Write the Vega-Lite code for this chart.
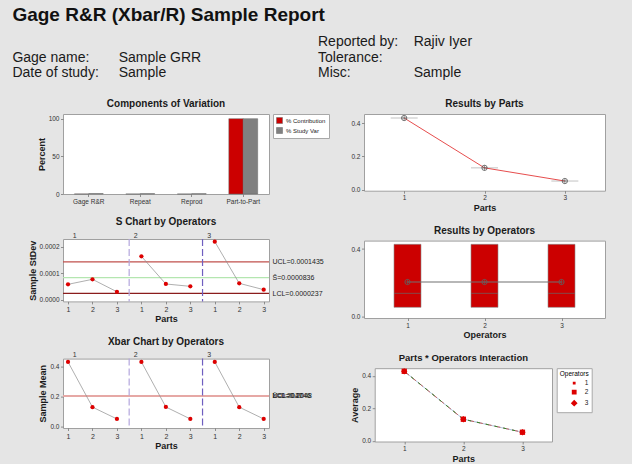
{
  "$schema": "https://vega.github.io/schema/vega-lite/v6.json",
  "background": "#e5e5e5",
  "padding": {"left": 12, "top": 6, "right": 26, "bottom": 3},
  "title": {"text": "Gage R&R (Xbar/R) Sample Report", "anchor": "start", "fontSize": 19, "fontWeight": "bold", "color": "#111111", "offset": 10},
  "bounds": "flush",
  "spacing": 36,
  "resolve": {"scale": {"color": "independent", "stroke": "independent", "shape": "independent", "strokeDash": "independent", "size": "independent"}, "legend": {"color": "independent", "stroke": "independent", "shape": "independent", "strokeDash": "independent", "size": "independent"}},
  "vconcat": [
    {
      "width": 500,
      "height": 31.3,
      "view": {"fill": null, "stroke": null},
      "data": {"values": [
        {"side": "left", "line": 2, "label": "Gage name:", "value": "Sample GRR"},
        {"side": "left", "line": 3, "label": "Date of study:", "value": "Sample"},
        {"side": "right", "line": 1, "label": "Reported by:", "value": "Rajiv Iyer"},
        {"side": "right", "line": 2, "label": "Tolerance:", "value": ""},
        {"side": "right", "line": 3, "label": "Misc:", "value": "Sample"}
      ]},
      "layer": [
        {
          "mark": {"type": "text", "align": "left", "baseline": "alphabetic", "fontSize": 14, "color": "#1a1a1a"},
          "encoding": {
            "x": {"field": "side", "type": "nominal", "scale": {"type": "point", "domain": ["left", "right"], "range": [-50.6, 255], "padding": 0}, "axis": null},
            "y": {"field": "line", "type": "ordinal", "scale": {"type": "point", "domain": [1, 2, 3], "padding": 0}, "axis": null},
            "text": {"field": "label"}
          }
        },
        {
          "mark": {"type": "text", "align": "left", "baseline": "alphabetic", "fontSize": 14, "color": "#1a1a1a"},
          "encoding": {
            "x": {"field": "side", "type": "nominal", "scale": {"type": "point", "domain": ["left", "right"], "range": [55.7, 350.7], "padding": 0}, "axis": null},
            "y": {"field": "line", "type": "ordinal", "scale": {"type": "point", "domain": [1, 2, 3], "padding": 0}, "axis": null},
            "text": {"field": "value"}
          }
        }
      ],
      "resolve": {"scale": {"x": "independent"}}
    },
    {
      "hconcat": [
        {
          "vconcat": [
            {
              "width": 206,
              "height": 80,
              "title": {"text": "Components of Variation", "fontSize": 10, "offset": 5},
              "data": {"values": [
                {"source": "Gage R&R", "measure": "% Contribution", "percent": 0.05},
                {"source": "Gage R&R", "measure": "% Study Var", "percent": 0.6},
                {"source": "Repeat", "measure": "% Contribution", "percent": 0.03},
                {"source": "Repeat", "measure": "% Study Var", "percent": 0.5},
                {"source": "Reprod", "measure": "% Contribution", "percent": 0.02},
                {"source": "Reprod", "measure": "% Study Var", "percent": 0.45},
                {"source": "Part-to-Part", "measure": "% Contribution", "percent": 100},
                {"source": "Part-to-Part", "measure": "% Study Var", "percent": 100}
              ]},
              "mark": {"type": "bar", "stroke": "#666666", "strokeWidth": 0.5},
              "encoding": {
                "x": {"field": "source", "type": "nominal", "sort": ["Gage R&R", "Repeat", "Reprod", "Part-to-Part"], "scale": {"paddingInner": 0.44, "paddingOuter": 0.22}, "axis": {"title": null, "labelAngle": 0, "labelFontSize": 6.5}},
                "xOffset": {"field": "measure", "type": "nominal", "sort": ["% Contribution", "% Study Var"]},
                "y": {"field": "percent", "type": "quantitative", "scale": {"domain": [0, 106.2], "nice": false}, "axis": {"values": [0, 50, 100], "title": "Percent"}},
                "color": {"field": "measure", "type": "nominal", "scale": {"domain": ["% Contribution", "% Study Var"], "range": ["#cc0000", "#808080"]},
                  "legend": {"title": null, "orient": "right", "offset": 4, "symbolType": "square", "symbolSize": 36, "labelFontSize": 6, "rowPadding": 1, "symbolStrokeWidth": 0.5, "labelOffset": 3}}
              }
            },
            {
              "vconcat": [
                {
                  "width": 206,
                  "height": 62.4,
                  "title": {"text": "S Chart by Operators", "fontSize": 10, "offset": 4},
                  "layer": [
                    {
                      "data": {"values": [
                        {"limit": "UCL", "value": 0.0001435},
                        {"limit": "S", "value": 0.0000836},
                        {"limit": "LCL", "value": 0.0000237}
                      ]},
                      "mark": {"type": "rule", "strokeWidth": 1.2},
                      "encoding": {
                        "y": {"field": "value", "type": "quantitative", "axis": {"orient": "right", "values": [0.0000237, 0.0000836, 0.0001435], "labelExpr": "datum.value > 0.0001 ? 'UCL=0.0001435' : (datum.value > 0.00005 ? 'S\u0304=0.0000836' : 'LCL=0.0000237')", "ticks": false, "domain": false, "title": null, "labelPadding": 3, "labelFontSize": 7, "labelOverlap": false, "labelColor": "#222222"}},
                        "color": {"field": "limit", "type": "nominal", "scale": {"domain": ["UCL", "S", "LCL"], "range": ["#c0504d", "#b4e6b0", "#8b1c1c"]}, "legend": null}
                      }
                    },
                    {
                      "data": {"values": [
                        {"operator": "2", "boundary": 3.5},
                        {"operator": "3", "boundary": 6.5}
                      ]},
                      "mark": {"type": "rule", "strokeDash": [7, 3], "strokeWidth": 1.2},
                      "encoding": {
                        "x": {"field": "boundary", "type": "quantitative", "axis": {"orient": "top", "values": [1.25, 3.75, 6.75], "labelExpr": "datum.value < 2 ? '1' : (datum.value < 5 ? '2' : '3')", "ticks": false, "domain": false, "title": null, "labelPadding": 1, "labelFontSize": 7}},
                        "stroke": {"field": "operator", "type": "nominal", "scale": {"domain": ["2", "3"], "range": ["#b3a6dd", "#6f5fc0"]}, "legend": null}
                      }
                    },
                    {
                      "data": {"values": [
                        {"operator": "1", "part": 1, "sample": 1, "stdev": 0.0000582},
                        {"operator": "1", "part": 2, "sample": 2, "stdev": 0.0000772},
                        {"operator": "1", "part": 3, "sample": 3, "stdev": 0.0000300},
                        {"operator": "2", "part": 1, "sample": 4, "stdev": 0.0001644},
                        {"operator": "2", "part": 2, "sample": 5, "stdev": 0.0000595},
                        {"operator": "2", "part": 3, "sample": 6, "stdev": 0.0000506},
                        {"operator": "3", "part": 1, "sample": 7, "stdev": 0.0002200},
                        {"operator": "3", "part": 2, "sample": 8, "stdev": 0.0000620},
                        {"operator": "3", "part": 3, "sample": 9, "stdev": 0.0000380}
                      ]},
                      "encoding": {
                        "x": {"field": "sample", "type": "quantitative", "scale": {"domain": [0.795, 9.217], "nice": false, "zero": false}, "axis": {"values": [1, 2, 3, 4, 5, 6, 7, 8, 9], "labelExpr": "'' + ((datum.value - 1) % 3 + 1)", "title": "Parts", "labelFontSize": 7}},
                        "y": {"field": "stdev", "type": "quantitative", "scale": {"domain": [-0.0000065, 0.00023], "nice": false, "zero": false}, "axis": {"values": [0, 0.0001, 0.0002], "format": ".4f", "title": "Sample StDev"}},
                        "detail": {"field": "operator"}
                      },
                      "layer": [
                        {"mark": {"type": "line", "color": "#8c8c8c", "strokeWidth": 0.7}},
                        {"mark": {"type": "point", "filled": true, "color": "#dd0000", "size": 18, "opacity": 1}}
                      ]
                    }
                  ],
                  "resolve": {"axis": {"x": "independent", "y": "independent"}, "scale": {"color": "independent", "stroke": "independent"}}
                },
                {
                  "width": 206,
                  "height": 69.4,
                  "title": {"text": "Xbar Chart by Operators", "fontSize": 10, "offset": 4},
                  "layer": [
                    {
                      "data": {"values": [
                        {"limit": "X", "value": 0.2047},
                        {"limit": "UCL", "value": 0.2048},
                        {"limit": "LCL", "value": 0.2046}
                      ]},
                      "mark": {"type": "rule", "strokeWidth": 1.4},
                      "encoding": {
                        "y": {"field": "value", "type": "quantitative", "axis": {"orient": "right", "values": [0.2046, 0.2047, 0.2048], "labelExpr": "datum.value > 0.20475 ? 'UCL=0.2048' : (datum.value > 0.20465 ? 'X\u0304=0.2047' : 'LCL=0.2046')", "ticks": false, "domain": false, "title": null, "labelPadding": 3, "labelFontSize": 7, "labelOverlap": false, "labelColor": "#222222"}},
                        "color": {"field": "limit", "type": "nominal", "scale": {"domain": ["X", "UCL", "LCL"], "range": ["#a8e0a0", "#e8a4a4", "#e8a4a4"]}, "legend": null}
                      }
                    },
                    {
                      "data": {"values": [
                        {"operator": "2", "boundary": 3.5},
                        {"operator": "3", "boundary": 6.5}
                      ]},
                      "mark": {"type": "rule", "strokeDash": [7, 3], "strokeWidth": 1.2},
                      "encoding": {
                        "x": {"field": "boundary", "type": "quantitative", "axis": {"orient": "top", "values": [1.25, 3.75, 6.75], "labelExpr": "datum.value < 2 ? '1' : (datum.value < 5 ? '2' : '3')", "ticks": false, "domain": false, "title": null, "labelPadding": 1, "labelFontSize": 7}},
                        "stroke": {"field": "operator", "type": "nominal", "scale": {"domain": ["2", "3"], "range": ["#b3a6dd", "#6f5fc0"]}, "legend": null}
                      }
                    },
                    {
                      "data": {"values": [
                        {"operator": "1", "part": 1, "sample": 1, "mean": 0.429},
                        {"operator": "1", "part": 2, "sample": 2, "mean": 0.131},
                        {"operator": "1", "part": 3, "sample": 3, "mean": 0.053},
                        {"operator": "2", "part": 1, "sample": 4, "mean": 0.429},
                        {"operator": "2", "part": 2, "sample": 5, "mean": 0.132},
                        {"operator": "2", "part": 3, "sample": 6, "mean": 0.053},
                        {"operator": "3", "part": 1, "sample": 7, "mean": 0.429},
                        {"operator": "3", "part": 2, "sample": 8, "mean": 0.131},
                        {"operator": "3", "part": 3, "sample": 9, "mean": 0.053}
                      ]},
                      "encoding": {
                        "x": {"field": "sample", "type": "quantitative", "scale": {"domain": [0.795, 9.217], "nice": false, "zero": false}, "axis": {"values": [1, 2, 3, 4, 5, 6, 7, 8, 9], "labelExpr": "'' + ((datum.value - 1) % 3 + 1)", "title": "Parts", "labelFontSize": 7}},
                        "y": {"field": "mean", "type": "quantitative", "scale": {"domain": [-0.0066, 0.451], "nice": false, "zero": false}, "axis": {"values": [0, 0.2, 0.4], "format": ".1f", "title": "Sample Mean"}},
                        "detail": {"field": "operator"}
                      },
                      "layer": [
                        {"mark": {"type": "line", "color": "#8c8c8c", "strokeWidth": 0.7}},
                        {"mark": {"type": "point", "filled": true, "color": "#dd0000", "size": 18, "opacity": 1}}
                      ]
                    }
                  ],
                  "resolve": {"axis": {"x": "independent", "y": "independent"}, "scale": {"color": "independent", "stroke": "independent"}}
                }
              ],
              "spacing": 56.6,
              "bounds": "flush",
              "resolve": {"scale": {"color": "independent", "stroke": "independent", "shape": "independent", "strokeDash": "independent", "size": "independent"}, "legend": {"color": "independent", "stroke": "independent", "shape": "independent", "strokeDash": "independent", "size": "independent"}}
            }
          ],
          "spacing": 45,
          "bounds": "flush",
          "resolve": {"scale": {"color": "independent", "stroke": "independent", "shape": "independent", "strokeDash": "independent", "size": "independent"}, "legend": {"color": "independent", "stroke": "independent", "shape": "independent", "strokeDash": "independent", "size": "independent"}}
        },
        {
          "vconcat": [
            {
              "width": 241,
              "height": 76.7,
              "title": {"text": "Results by Parts", "fontSize": 10, "offset": 5},
              "data": {"values": [
                {"part": 1, "mean": 0.430},
                {"part": 2, "mean": 0.131},
                {"part": 3, "mean": 0.052}
              ]},
              "encoding": {
                "x": {"field": "part", "type": "quantitative", "scale": {"domain": [0.5, 3.5], "nice": false, "zero": false}, "axis": {"values": [1, 2, 3], "format": "d", "title": "Parts"}},
                "y": {"field": "mean", "type": "quantitative", "scale": {"domain": [-0.006, 0.454], "nice": false, "zero": false}, "axis": {"values": [0, 0.2, 0.4], "format": ".1f", "title": null}}
              },
              "layer": [
                {"mark": {"type": "tick", "orient": "horizontal", "size": 27, "thickness": 1, "color": "#a8a8a8"}},
                {"mark": {"type": "line", "color": "#e02020", "strokeWidth": 0.8}},
                {"mark": {"type": "point", "shape": "circle", "filled": false, "color": "#555555", "size": 28, "strokeWidth": 0.8, "opacity": 1}},
                {"mark": {"type": "point", "shape": "M-1,0H1M0,-1V1", "filled": false, "color": "#555555", "size": 28, "strokeWidth": 0.6, "opacity": 1}}
              ]
            },
            {
              "width": 241,
              "height": 77.4,
              "title": {"text": "Results by Operators", "fontSize": 10, "offset": 5},
              "data": {"values": [
                {"operator": 1, "q1": 0.055, "median": 0.138, "q3": 0.428, "mean": 0.205},
                {"operator": 2, "q1": 0.055, "median": 0.138, "q3": 0.428, "mean": 0.205},
                {"operator": 3, "q1": 0.055, "median": 0.138, "q3": 0.428, "mean": 0.205}
              ]},
              "encoding": {
                "x": {"field": "operator", "type": "quantitative", "scale": {"domain": [0.5, 3.5], "nice": false, "zero": false}, "axis": {"values": [1, 2, 3], "format": "d", "title": "Operators"}}
              },
              "layer": [
                {
                  "mark": {"type": "bar", "width": 27, "color": "#cc0000", "stroke": "#8a8a8a", "strokeWidth": 0.6},
                  "encoding": {
                    "y": {"field": "q1", "type": "quantitative", "title": null, "scale": {"domain": [-0.008, 0.45], "nice": false, "zero": false}, "axis": {"values": [0, 0.2, 0.4], "format": ".1f", "title": null}},
                    "y2": {"field": "q3"}
                  }
                },
                {
                  "mark": {"type": "tick", "orient": "horizontal", "size": 27, "thickness": 1, "color": "#666666"},
                  "encoding": {"y": {"field": "median", "type": "quantitative", "title": null}}
                },
                {
                  "mark": {"type": "line", "color": "#707070", "strokeWidth": 1.2},
                  "encoding": {"y": {"field": "mean", "type": "quantitative", "title": null}}
                },
                {
                  "mark": {"type": "point", "shape": "circle", "filled": false, "color": "#606060", "size": 28, "strokeWidth": 0.8, "opacity": 1},
                  "encoding": {"y": {"field": "mean", "type": "quantitative", "title": null}}
                },
                {
                  "mark": {"type": "point", "shape": "M-1,0H1M0,-1V1", "filled": false, "color": "#606060", "size": 28, "strokeWidth": 0.6, "opacity": 1},
                  "encoding": {"y": {"field": "mean", "type": "quantitative", "title": null}}
                }
              ]
            },
            {
              "hconcat": [
                {
                  "width": 1,
                  "height": 1,
                  "view": {"fill": null, "stroke": null},
                  "data": {"values": []},
                  "mark": "text"
                },
                {
                  "width": 177.3,
                  "height": 73.3,
                  "title": {"text": "Parts * Operators Interaction", "fontSize": 9.5, "offset": 5},
                  "data": {"values": [
                    {"operator": "1", "part": 1, "average": 0.428},
                    {"operator": "1", "part": 2, "average": 0.133},
                    {"operator": "1", "part": 3, "average": 0.053},
                    {"operator": "2", "part": 1, "average": 0.428},
                    {"operator": "2", "part": 2, "average": 0.133},
                    {"operator": "2", "part": 3, "average": 0.053},
                    {"operator": "3", "part": 1, "average": 0.428},
                    {"operator": "3", "part": 2, "average": 0.133},
                    {"operator": "3", "part": 3, "average": 0.053}
                  ]},
                  "encoding": {
                    "x": {"field": "part", "type": "quantitative", "scale": {"domain": [0.5, 3.5], "nice": false, "zero": false}, "axis": {"values": [1, 2, 3], "format": "d", "title": "Parts"}},
                    "y": {"field": "average", "type": "quantitative", "scale": {"domain": [-0.004, 0.447], "nice": false, "zero": false}, "axis": {"values": [0, 0.2, 0.4], "format": ".1f", "title": "Average"}}
                  },
                  "layer": [
                    {
                      "mark": {"type": "line", "strokeWidth": 1},
                      "encoding": {
                        "color": {"field": "operator", "type": "nominal", "scale": {"domain": ["1", "2", "3"], "range": ["#9fbad6", "#c06060", "#2e8b2e"]}, "legend": null},
                        "strokeDash": {"field": "operator", "type": "nominal", "scale": {"domain": ["1", "2", "3"], "range": [[1, 0], [6, 3], [3, 6]]}, "legend": null}
                      }
                    },
                    {
                      "mark": {"type": "point", "filled": true, "color": "#dd0000", "opacity": 1},
                      "encoding": {
                        "shape": {"field": "operator", "type": "nominal", "scale": {"domain": ["1", "2", "3"], "range": ["circle", "square", "diamond"]}, "legend": null},
                        "size": {"field": "operator", "type": "ordinal", "scale": {"domain": ["1", "2", "3"], "range": [16, 40, 55]}, "legend": null}
                      }
                    },
                    {
                      "data": {"values": [{"operator": "1"}, {"operator": "2"}, {"operator": "3"}]},
                      "mark": {"type": "point", "filled": true, "fill": "#dd0000", "strokeWidth": 1, "opacity": 1},
                      "encoding": {
                        "shape": {"field": "operator", "type": "nominal", "scale": {"domain": ["1", "2", "3"], "range": [
                          "M-2.1,0H-0.35M0.35,0H2.1M-0.35,-0.35H0.35V0.35H-0.35Z",
                          "M-2.1,0H-0.6M0.6,0H2.1M-0.6,-0.6H0.6V0.6H-0.6Z",
                          "M-2.1,0H-0.85M0.85,0H2.1M0,-0.85L0.85,0L0,0.85L-0.85,0Z"
                        ]}, "legend": {"title": "Operators"}},
                        "stroke": {"field": "operator", "type": "nominal", "scale": {"domain": ["1", "2", "3"], "range": ["#9fbad6", "#c06060", "#2e8b2e"]}, "legend": {"title": "Operators"}},
                        "strokeDash": {"field": "operator", "type": "nominal", "scale": {"domain": ["1", "2", "3"], "range": [[1, 0], [1, 0], [3, 2]]}, "legend": {"title": "Operators"}}
                      }
                    }
                  ],
                  "resolve": {"scale": {"shape": "independent", "strokeDash": "independent"}}
                }
              ],
              "spacing": 9.7,
              "bounds": "flush",
              "resolve": {"scale": {"color": "independent", "stroke": "independent", "shape": "independent", "strokeDash": "independent", "size": "independent"}, "legend": {"color": "independent", "stroke": "independent", "shape": "independent", "strokeDash": "independent", "size": "independent"}}
            }
          ],
          "spacing": 49.6,
          "bounds": "flush",
          "resolve": {"scale": {"color": "independent", "stroke": "independent", "shape": "independent", "strokeDash": "independent", "size": "independent"}, "legend": {"color": "independent", "stroke": "independent", "shape": "independent", "strokeDash": "independent", "size": "independent"}}
        }
      ],
      "spacing": 301,
      "bounds": "flush",
      "resolve": {"scale": {"color": "independent", "stroke": "independent", "shape": "independent", "strokeDash": "independent", "size": "independent"}, "legend": {"color": "independent", "stroke": "independent", "shape": "independent", "strokeDash": "independent", "size": "independent"}}
    }
  ],
  "config": {
    "font": "Liberation Sans",
    "view": {"fill": "white", "stroke": "#a0a0a0"},
    "axis": {"grid": false, "domain": false, "labelFontSize": 6.5, "labelColor": "#333333", "tickColor": "#777777", "tickSize": 2.5, "tickWidth": 0.8, "labelPadding": 1.5, "titleFontSize": 9, "titleFontWeight": "bold", "titleColor": "#1a1a1a", "titlePadding": 2},
    "title": {"fontSize": 10, "fontWeight": "bold", "color": "#1a1a1a"},
    "legend": {"labelFontSize": 6.5, "labelColor": "#222222", "strokeColor": "#a8a8a8", "fillColor": "white", "padding": 3, "titleFontSize": 6.5, "titleFontWeight": "normal", "titleAnchor": "end", "titlePadding": 1, "rowPadding": 1, "symbolSize": 64, "symbolStrokeWidth": 1, "labelOffset": 6, "offset": 4}
  }
}
